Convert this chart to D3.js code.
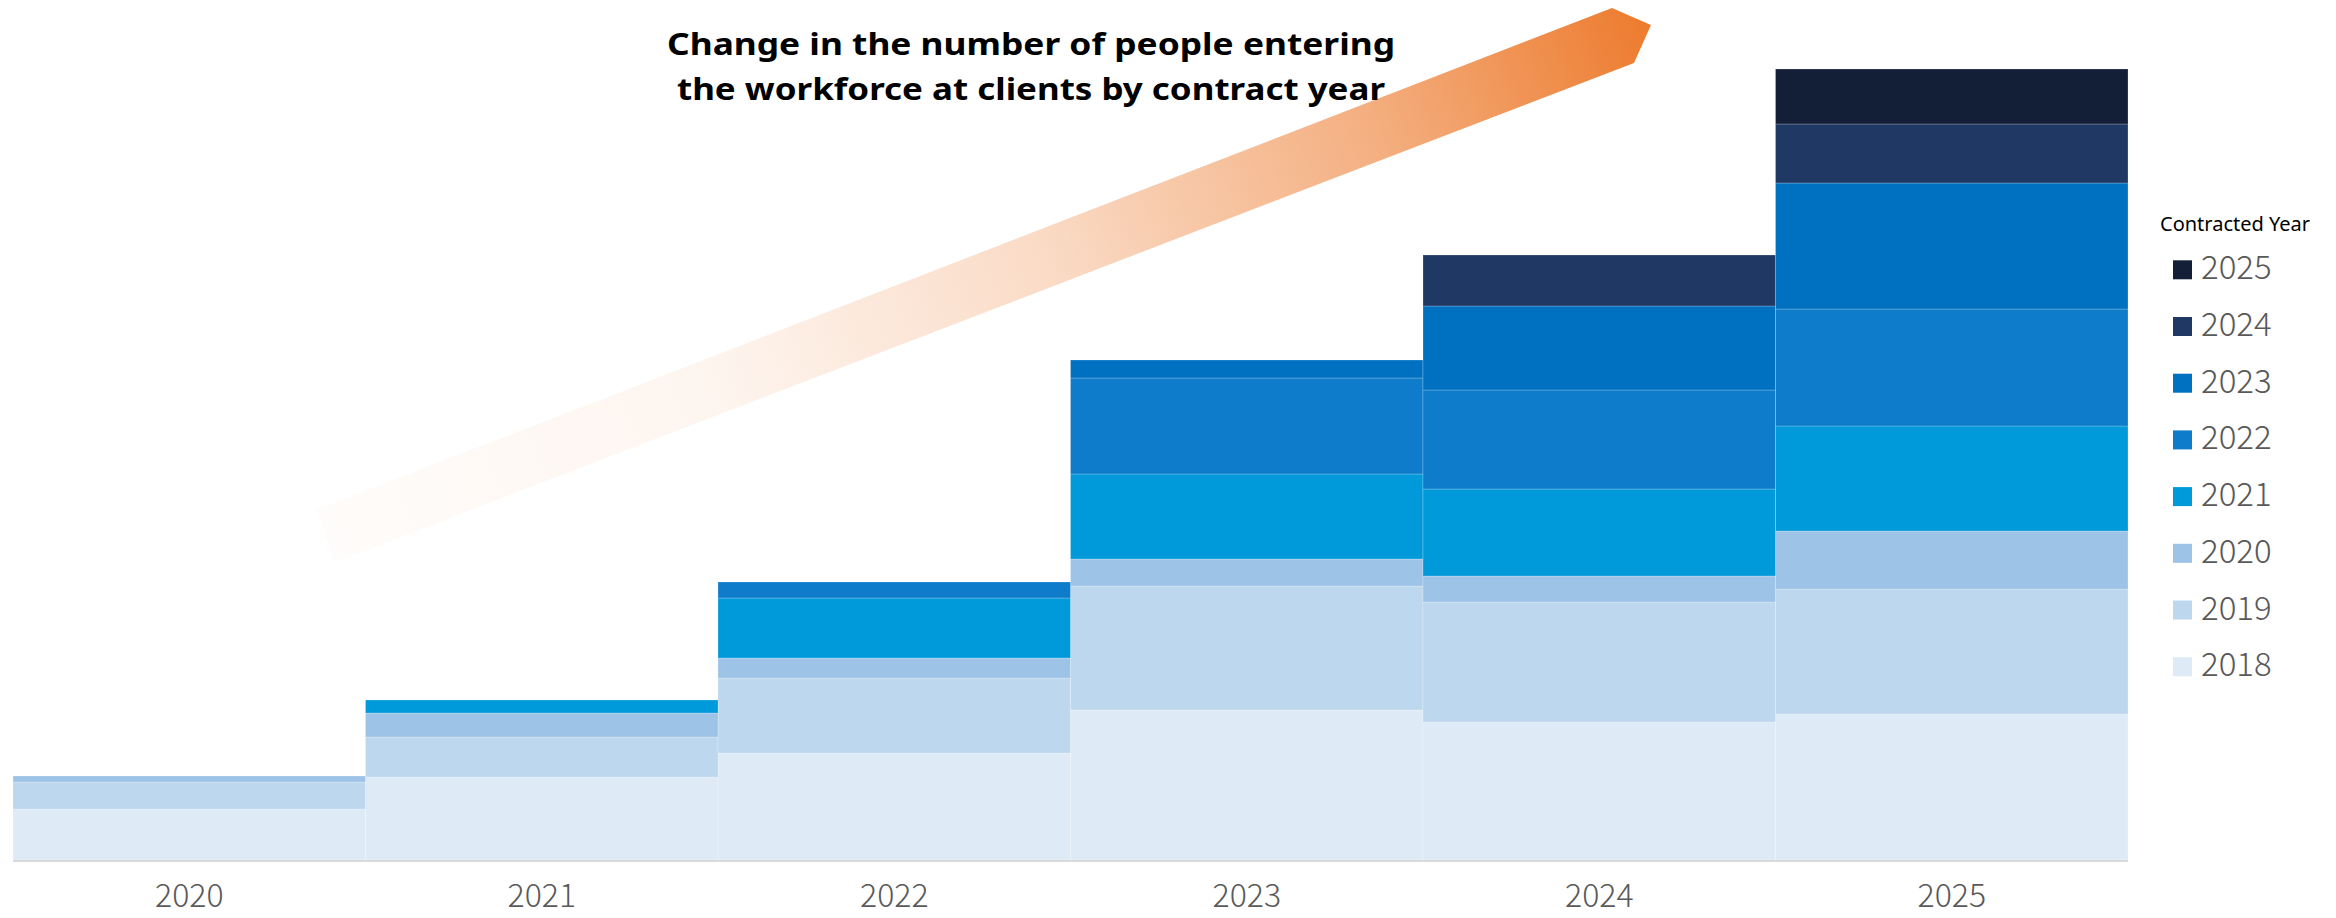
<!DOCTYPE html>
<html>
<head>
<meta charset="utf-8">
<script src="https://cdn.jsdelivr.net/npm/d3@7"></script>
<style>
  html, body { margin: 0; padding: 0; background: #ffffff; }
  svg { display: block; }
</style>
</head>
<body>
<svg id="chart" width="2336" height="918"></svg>
<script>
// Periods along the x axis
const periods = ["2020", "2021", "2022", "2023", "2024", "2025"];

// Cohorts stacked in each column (by year the client contract started)
const contractYears = ["2018", "2019", "2020", "2021", "2022", "2023", "2024", "2025"];

// People entering the workforce, per cohort, for each period
const cohort2018 = [51, 83, 107, 150, 138, 146];
const cohort2019 = [27, 40, 75, 124, 120, 125];
const cohort2020 = [6, 24, 20, 27, 26, 58];
const cohort2021 = [0, 13, 60, 85, 87, 105];
const cohort2022 = [0, 0, 16, 96, 99, 117];
const cohort2023 = [0, 0, 0, 18, 84, 126];
const cohort2024 = [0, 0, 0, 0, 51, 59];
const cohort2025 = [0, 0, 0, 0, 0, 55];

const cohortColors = ["#DEEAF6", "#BDD7EE", "#9DC3E6", "#009ADB", "#0E7BCB", "#0070C0", "#203864", "#131F37"];

const titleLines = ["Change in the number of people entering", "the workforce at clients by contract year"];
const legendTitle = "Contracted Year";

// Build the table d3.stack needs
const cohorts = [cohort2018, cohort2019, cohort2020, cohort2021, cohort2022, cohort2023, cohort2024, cohort2025];
const table = periods.map((p, i) => {
  const row = { period: p };
  contractYears.forEach((y, k) => { row[y] = cohorts[k][i]; });
  return row;
});

const svg = d3.select("#chart");

const x = d3.scaleBand().domain(periods).range([13, 2128]).padding(0);
const y = d3.scaleLinear().domain([0, 800]).range([860, 60]);
const color = d3.scaleOrdinal().domain(contractYears).range(cohortColors);

// Growth arrow behind the title
const defs = svg.append("defs");
const grad = defs.append("linearGradient")
  .attr("id", "arrowGrad")
  .attr("gradientUnits", "userSpaceOnUse")
  .attr("x1", 325).attr("y1", 536)
  .attr("x2", 1640).attr("y2", 30);
[[0, 0.02], [0.3, 0.08], [0.55, 0.28], [0.8, 0.62], [1, 1]].forEach(([o, a]) => {
  grad.append("stop").attr("offset", o).attr("stop-color", "#ED7D31").attr("stop-opacity", a);
});
svg.append("path")
  .attr("d", "M316,510 L1612,8 L1651,25 L1634,63 L335,562 Z")
  .attr("fill", "url(#arrowGrad)");

// Stacked columns
const series = d3.stack().keys(contractYears)(table);
svg.append("g")
  .selectAll("g")
  .data(series)
  .join("g")
  .attr("fill", d => color(d.key))
  .selectAll("rect")
  .data(d => d.filter(s => s[1] - s[0] > 0))
  .join("rect")
  .attr("x", d => x(d.data.period))
  .attr("width", x.bandwidth())
  .attr("y", d => y(d[1]))
  .attr("height", d => y(d[0]) - y(d[1]))
  .attr("stroke", "rgba(255,255,255,0.22)")
  .attr("stroke-width", 1);

// Category axis
const xAxis = svg.append("g")
  .attr("transform", `translate(0,${y(0)})`)
  .call(d3.axisBottom(x).tickSize(0).tickPadding(0));
xAxis.select(".domain").attr("stroke", "#D9D9D9").attr("stroke-width", 2).attr("d", `M13,1H2128`);
xAxis.selectAll(".tick text")
  .attr("y", 47)
  .attr("dy", 0)
  .attr("fill", "#595959")
  .style("font-family", "'Noto Sans CJK JP', 'Noto Sans', sans-serif")
  .style("font-weight", 300)
  .style("font-size", "32px");

// Title
svg.append("g")
  .selectAll("text")
  .data(titleLines)
  .join("text")
  .attr("x", 1031)
  .attr("y", (d, i) => 55 + i * 45)
  .attr("text-anchor", "middle")
  .attr("fill", "#000")
  .style("font-family", "'Noto Sans', 'Open Sans', sans-serif")
  .style("font-weight", 700)
  .style("font-size", "31px")
  .attr("textLength", (d, i) => i === 0 ? 728 : 708)
  .attr("lengthAdjust", "spacingAndGlyphs")
  .text(d => d);

// Legend
const legend = svg.append("g");
legend.append("text")
  .attr("x", 2160)
  .attr("y", 231)
  .attr("fill", "#000")
  .style("font-family", "'Noto Sans', sans-serif")
  .style("font-size", "20px")
  .text(legendTitle);
const items = legend.selectAll("g.item")
  .data(contractYears.slice().reverse())
  .join("g")
  .attr("class", "item")
  .attr("transform", (d, i) => `translate(2173,${260.3 + i * 56.7})`);
items.append("rect")
  .attr("width", 19).attr("height", 19)
  .attr("fill", d => color(d));
items.append("text")
  .attr("x", 28)
  .attr("y", 19)
  .attr("fill", "#595959")
  .style("font-family", "'Noto Sans CJK JP', 'Noto Sans', sans-serif")
  .style("font-weight", 300)
  .style("font-size", "33px")
  .text(d => d);
</script>
</body>
</html>
